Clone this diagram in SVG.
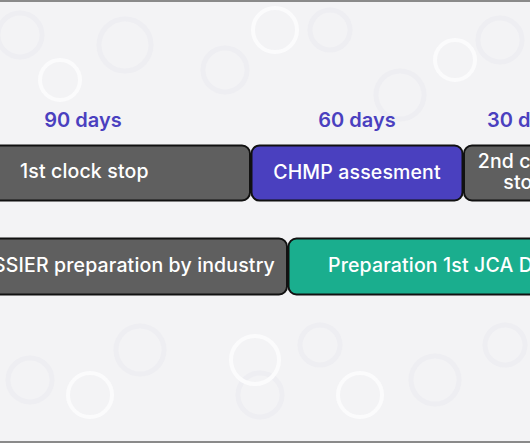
<svg xmlns="http://www.w3.org/2000/svg" width="530" height="443" viewBox="0 0 530 443">
<style>
.bar{stroke:#111;stroke-width:2}
.gray{fill:#5f5f5f}
.blue{fill:#4a40bf}
.green{fill:#1aae8e}
.lbl{font-family:Inter,"Noto Sans",sans-serif;font-size:19.5px;fill:#ffffff;font-weight:500;letter-spacing:0.15px}
.days{font-family:Inter,"Noto Sans",sans-serif;font-size:20px;fill:#4a40bf;font-weight:600}
.pat{fill:none;stroke:#eeeef2;stroke-width:5}
.hi{fill:none;stroke:#fbfbfc;stroke-width:4}
</style>
<rect x="0" y="0" width="530" height="443" fill="#f3f3f5"/>
<g id="pattern">
<circle class="pat" cx="20" cy="35" r="22"/>
<circle class="pat" cx="125" cy="45" r="26"/>
<circle class="pat" cx="225" cy="70" r="22"/>
<circle class="pat" cx="330" cy="30" r="20"/>
<circle class="pat" cx="400" cy="95" r="24"/>
<circle class="pat" cx="500" cy="40" r="22"/>
<circle class="pat" cx="30" cy="380" r="22"/>
<circle class="pat" cx="140" cy="350" r="24"/>
<circle class="pat" cx="260" cy="395" r="22"/>
<circle class="pat" cx="320" cy="345" r="20"/>
<circle class="pat" cx="435" cy="380" r="24"/>
<circle class="pat" cx="505" cy="345" r="20"/>
<circle class="hi" cx="255" cy="360" r="24"/>
<circle class="hi" cx="90" cy="395" r="22"/>
<circle class="hi" cx="360" cy="395" r="22"/>
<circle class="hi" cx="60" cy="80" r="20"/>
<circle class="hi" cx="275" cy="30" r="22"/>
<circle class="hi" cx="455" cy="60" r="20"/>
</g>
<rect x="0" y="0" width="530" height="2" fill="#8a8a8a"/>
<rect x="0" y="441" width="530" height="2" fill="#8a8a8a"/>
<g id="labels">
<text class="days" x="83" y="127" text-anchor="middle">90 days</text>
<text class="days" x="357" y="127" text-anchor="middle">60 days</text>
<text class="days" x="487" y="127">30 days</text>
</g>
<g id="connectors"></g>
<g id="node-clock1">
<rect class="bar gray" x="-20" y="145.5" width="270" height="55" rx="8"/>
<text class="lbl" x="20" y="178">1st clock stop</text>
</g>
<g id="node-chmp">
<rect class="bar blue" x="251.5" y="145.5" width="211" height="55" rx="8"/>
<text class="lbl" x="357" y="179" text-anchor="middle">CHMP assesment</text>
</g>
<g id="node-clock2">
<rect class="bar gray" x="464" y="145.5" width="100" height="55" rx="8"/>
<text class="lbl" x="524" y="168" text-anchor="middle"><tspan x="524" y="168">2nd clock</tspan><tspan x="524" y="189">stop</tspan></text>
</g>
<g id="node-dossier">
<rect class="bar gray" x="-20" y="238.5" width="307" height="56" rx="8"/>
<text class="lbl" x="275" y="272" text-anchor="end">SSIER preparation by industry</text>
</g>
<g id="node-jca">
<rect class="bar green" x="288.5" y="238.5" width="270" height="56" rx="8"/>
<text class="lbl" x="328" y="272">Preparation 1st JCA D</text>
</g>
</svg>
